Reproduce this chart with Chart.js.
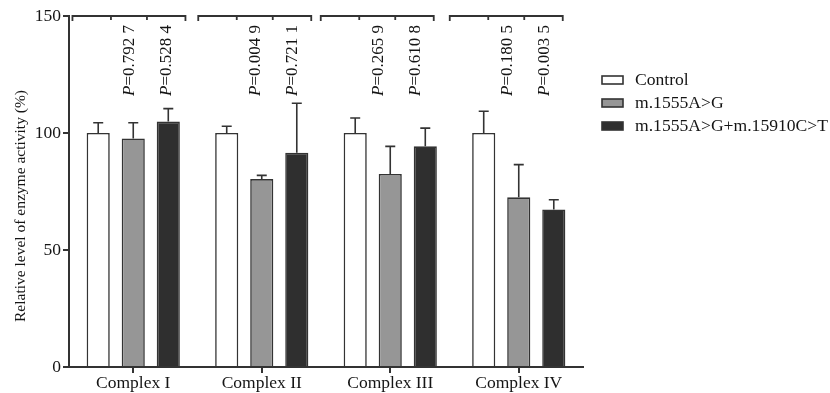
<!DOCTYPE html>
<html><head><meta charset="utf-8">
<script src="https://cdn.jsdelivr.net/npm/chart.js@4.4.1/dist/chart.umd.min.js"></script>
<style>html,body{margin:0;padding:0;background:#fff;} #wrap{width:830px;height:393px;position:relative;}</style>
</head><body><div id="wrap"><canvas id="c" width="830" height="393"></canvas></div>
<script>
const categories = ['Complex I', 'Complex II', 'Complex III', 'Complex IV'];
const seriesNames = ['Control', 'm.1555A>G', 'm.1555A>G+m.15910C>T'];
const controlValues = [100, 100, 100, 100];
const controlErrors = [4.4, 2.9, 6.4, 9.3];
const mutantValues = [97.7, 80.3, 82.5, 72.5];
const mutantErrors = [6.7, 1.6, 11.8, 14.0];
const doubleValues = [104.9, 91.6, 94.3, 67.3];
const doubleErrors = [5.5, 21.1, 7.8, 4.2];
const pMutant = ['0.792 7', '0.004 9', '0.265 9', '0.180 5'];
const pDouble = ['0.528 4', '0.721 1', '0.610 8', '0.003 5'];
const yTicks = [0, 50, 100, 150];
const yTitle = 'Relative level of enzyme activity (%)';

const FONT = '"Liberation Serif", "Times New Roman", serif';
const INK = '#333';
const TXT = '#151515';
const fills = ['#ffffff', '#969696', '#2f2f2f'];

const errorSets = [controlErrors, mutantErrors, doubleErrors];

const errorBarPlugin = {
  id: 'errorBars',
  afterDatasetsDraw(chart) {
    const ctx = chart.ctx, ys = chart.scales.y;
    ctx.save();
    ctx.strokeStyle = INK; ctx.lineWidth = 1.6;
    chart.data.datasets.forEach((ds, di) => {
      const meta = chart.getDatasetMeta(di);
      meta.data.forEach((el, i) => {
        const top = ys.getPixelForValue(ds.data[i] + errorSets[di][i]);
        ctx.beginPath();
        ctx.moveTo(el.x, el.y); ctx.lineTo(el.x, top);
        ctx.moveTo(el.x - 5, top); ctx.lineTo(el.x + 5, top);
        ctx.stroke();
      });
    });
    ctx.restore();
  }
};

// bracket shift relative to category centre (decoration only)
const bracketShift = [-4.3, -7, -13, -12.5];
const annotPlugin = {
  id: 'annot',
  afterDraw(chart) {
    const ctx = chart.ctx, xs = chart.scales.x, ys = chart.scales.y;
    const by = ys.getPixelForValue(150);
    ctx.save();
    ctx.strokeStyle = INK; ctx.lineWidth = 1.8;
    categories.forEach((c, i) => {
      const cx = xs.getPixelForValue(i) + bracketShift[i];
      const l = cx - 56.5, r = cx + 56.5, t1 = cx - 18, t2 = cx + 18;
      ctx.beginPath();
      ctx.moveTo(l, by + 5); ctx.lineTo(l, by); ctx.lineTo(r, by); ctx.lineTo(r, by + 5);
      ctx.moveTo(t1, by); ctx.lineTo(t1, by + 4);
      ctx.moveTo(t2, by); ctx.lineTo(t2, by + 4);
      ctx.stroke();
      const texts = [[cx + 1, pMutant[i]], [cx + 38, pDouble[i]]];
      texts.forEach(([tx, p]) => {
        ctx.save();
        ctx.fillStyle = TXT;
        ctx.font = 'italic 17px ' + FONT;
        const wP = ctx.measureText('P').width;
        ctx.font = '17px ' + FONT;
        const wR = ctx.measureText('=' + p).width;
        ctx.translate(tx, 25 + wP + wR);
        ctx.rotate(-Math.PI / 2);
        ctx.textBaseline = 'middle'; ctx.textAlign = 'left';
        ctx.font = 'italic 17px ' + FONT;
        ctx.fillText('P', 0, 0);
        ctx.font = '17px ' + FONT;
        ctx.fillText('=' + p, wP, 0);
        ctx.restore();
      });
    });
    // y title
    ctx.save();
    ctx.fillStyle = TXT;
    ctx.font = '15.5px ' + FONT;
    ctx.translate(21, 206);
    ctx.rotate(-Math.PI / 2);
    ctx.textAlign = 'center'; ctx.textBaseline = 'middle';
    ctx.fillText(yTitle, 0, 0);
    ctx.restore();
    // legend
    const rows = [80, 103, 126];
    chart.data.datasets.forEach((ds, di) => {
      const y = rows[di];
      ctx.fillStyle = ds.backgroundColor;
      ctx.fillRect(602, y - 4, 21, 8);
      ctx.lineWidth = 1.6; ctx.strokeStyle = INK;
      ctx.strokeRect(602, y - 4, 21, 8);
      ctx.fillStyle = TXT;
      ctx.font = '17.6px ' + FONT;
      ctx.textAlign = 'left'; ctx.textBaseline = 'middle';
      ctx.fillText(ds.label, 635, y);
    });
    ctx.restore();
  }
};

const valueSets = [controlValues, mutantValues, doubleValues];
new Chart(document.getElementById('c'), {
  type: 'bar',
  data: {
    labels: categories,
    datasets: seriesNames.map((n, i) => ({
      label: n,
      data: valueSets[i],
      backgroundColor: fills[i],
      borderColor: INK,
      borderWidth: 1.6,
      borderSkipped: 'start',
      categoryPercentage: 0.818,
      barPercentage: 0.66
    }))
  },
  options: {
    responsive: false,
    animation: false,
    devicePixelRatio: 1,
    layout: { padding: { top: 16, right: 247, left: 0, bottom: 0 } },
    plugins: { legend: { display: false }, tooltip: { enabled: false } },
    scales: {
      x: {
        grid: { offset: false, drawOnChartArea: false, tickLength: 6, color: INK, lineWidth: 2 },
        border: { color: INK, width: 2 },
        ticks: { color: TXT, font: { family: FONT, size: 17.5 }, padding: 0 },
        afterFit(s) { s.height = 26; }
      },
      y: {
        min: 0, max: 150,
        afterBuildTicks(s) { s.ticks = yTicks.map(v => ({ value: v })); },
        grid: { drawOnChartArea: false, tickLength: 6, color: INK, lineWidth: 2 },
        border: { color: INK, width: 2 },
        ticks: { color: TXT, font: { family: FONT, size: 17.5 }, padding: 2 },
        afterFit(s) { s.width = 69; }
      }
    }
  },
  plugins: [errorBarPlugin, annotPlugin]
});
</script>
</body></html>
